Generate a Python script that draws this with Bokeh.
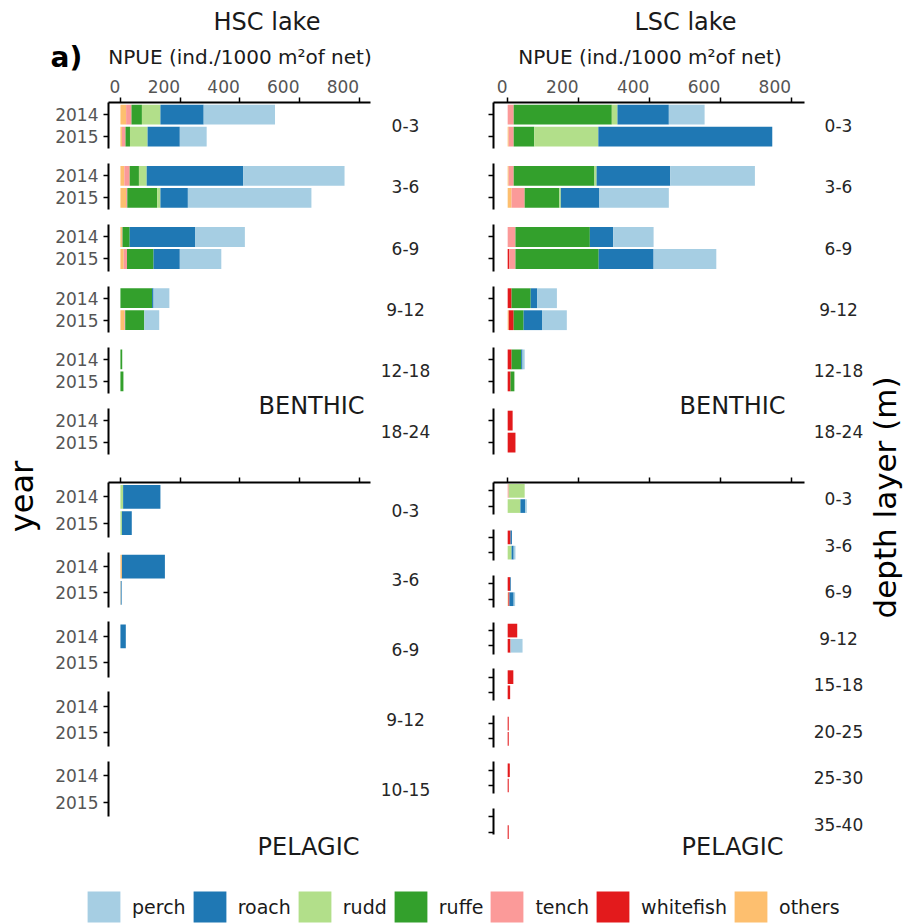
from math import pi
from bokeh.plotting import figure
from bokeh.models import (ColumnDataSource, Range1d, LinearAxis, FixedTicker,
                          Label, Legend, LegendItem)
from bokeh.embed import file_html
from bokeh.resources import INLINE

FONT = "DejaVu Sans"

# ---------------- data ----------------
SPECIES = ["perch", "roach", "rudd", "ruffe", "tench", "whitefish", "others"]
SPECIES_COLORS = ["#a6cee3", "#1f78b4", "#b2df8a", "#33a02c", "#fb9a99", "#e31a1c", "#fdbf6f"]
STACK_ORDER = ["others", "whitefish", "tench", "ruffe", "rudd", "roach", "perch"]
YEARS = ["2014", "2015"]
NPUE_TICKS = [0, 200, 400, 600, 800]
NPUE_LABEL = "NPUE (ind./1000 m²of net)"

# rows: depth0-2014, depth0-2015, depth1-2014, depth1-2015, ...
HSC_BEN_DEPTHS = ["0-3", "3-6", "6-9", "9-12", "12-18", "18-24"]
HSC_BEN_PERCH = [239, 90, 340, 414, 167, 139, 53, 50, 0, 0, 0, 0]
HSC_BEN_ROACH = [145, 108, 323, 92, 219, 88, 5, 0, 0, 0, 0, 0]
HSC_BEN_RUDD = [62, 59, 26, 11, 0, 0, 0, 0, 0, 0, 0, 0]
HSC_BEN_RUFFE = [35, 15, 31, 100, 24, 89, 106, 64, 6, 10, 0, 0]
HSC_BEN_TENCH = [18, 12, 18, 4, 2, 11, 0, 3, 0, 0, 0, 0]
HSC_BEN_WHITEFISH = [0, 0, 0, 0, 0, 0, 0, 0, 0, 0, 0, 0]
HSC_BEN_OTHERS = [19, 5, 13, 19, 5, 11, 0, 13, 0, 0, 0, 0]

LSC_BEN_DEPTHS = ["0-3", "3-6", "6-9", "9-12", "12-18", "18-24"]
LSC_BEN_PERCH = [101, 0, 239, 196, 114, 177, 56, 70, 6, 0, 0, 0]
LSC_BEN_ROACH = [145, 491, 208, 109, 66, 155, 18, 52, 4, 0, 0, 0]
LSC_BEN_RUDD = [16, 181, 6, 4, 0, 0, 0, 0, 0, 0, 0, 0]
LSC_BEN_RUFFE = [277, 58, 228, 98, 210, 235, 54, 28, 27, 11, 0, 0]
LSC_BEN_TENCH = [17, 14, 14, 37, 22, 18, 0, 0, 0, 0, 0, 0]
LSC_BEN_WHITEFISH = [0, 0, 0, 0, 0, 4, 11, 14, 11, 8, 14, 22]
LSC_BEN_OTHERS = [0, 3, 3, 11, 0, 0, 0, 3, 0, 0, 0, 0]

HSC_PEL_DEPTHS = ["0-3", "3-6", "6-9", "9-12", "10-15"]
HSC_PEL_PERCH = [0, 0, 0, 0, 0, 0, 0, 0, 0, 0]
HSC_PEL_ROACH = [125, 33, 144, 3, 18, 0, 0, 0, 0, 0]
HSC_PEL_RUDD = [9, 5, 0, 0, 0, 0, 0, 0, 0, 0]
HSC_PEL_RUFFE = [0, 0, 0, 0, 0, 0, 0, 0, 0, 0]
HSC_PEL_TENCH = [0, 0, 0, 0, 0, 0, 0, 0, 0, 0]
HSC_PEL_WHITEFISH = [0, 0, 0, 0, 0, 0, 0, 0, 0, 0]
HSC_PEL_OTHERS = [0, 0, 5, 1, 0, 0, 0, 0, 0, 0]

LSC_PEL_DEPTHS = ["0-3", "3-6", "6-9", "9-12", "15-18", "20-25", "25-30", "35-40"]
LSC_PEL_PERCH = [0, 5, 0, 5, 0, 4, 0, 34, 0, 0, 0, 0, 0, 0, 0, 0]
LSC_PEL_ROACH = [0, 13, 4, 6, 2, 12, 0, 0, 0, 0, 0, 0, 0, 0, 0, 0]
LSC_PEL_RUDD = [45, 36, 0, 11, 0, 0, 0, 0, 0, 0, 0, 0, 0, 0, 0, 0]
LSC_PEL_RUFFE = [0, 0, 0, 0, 0, 0, 0, 0, 0, 0, 0, 0, 0, 0, 0, 0]
LSC_PEL_TENCH = [3, 0, 0, 0, 0, 0, 0, 0, 0, 0, 0, 0, 0, 0, 0, 0]
LSC_PEL_WHITEFISH = [0, 0, 8, 0, 7, 3, 27, 8, 16, 7, 3, 3, 6, 3, 0, 3]
LSC_PEL_OTHERS = [0, 0, 0, 0, 0, 2, 0, 0, 0, 0, 0, 0, 0, 0, 0, 0]

# ---------------- layout (page pixels) ----------------
X_MIN, X_MAX = -40, 838
PX0, PY0 = 0, 0
W, H = 908, 923
FRAME_H = 352
HSC_LEFT, HSC_W = 108, 262
LSC_LEFT, LSC_W = 493, 311
BEN_TOP, PEL_TOP = 102, 482

p = figure(width=W, height=H,
           x_range=Range1d(PX0, PX0 + W), y_range=Range1d(-(PY0 + H), -PY0),
           x_axis_location=None, y_axis_location=None, min_border=0,
           outline_line_color=None, toolbar_location=None, output_backend="svg",
           background_fill_color="white", border_fill_color="white")
p.grid.visible = False


def x_rng(left, width):
    sx = width / (X_MAX - X_MIN)
    return Range1d(X_MIN - (left - PX0) / sx, X_MAX + (PX0 + W - left - width) / sx)


def y_rng(top, unit):
    return Range1d(-0.55 + (PY0 + H - top) / unit, -0.55 - (top - PY0) / unit)


BEN_U, BEN_PITCH = 22.0, 61.2
HPEL_U, HPEL_PITCH = 26.2, 69.75
LPEL_U, LPEL_PITCH = 15.2, 46.57

p.extra_x_ranges = {"hsc": x_rng(HSC_LEFT, HSC_W), "lsc": x_rng(LSC_LEFT, LSC_W)}
p.extra_y_ranges = {"ben": y_rng(BEN_TOP, BEN_U), "hpel": y_rng(PEL_TOP, HPEL_U),
                    "lpel": y_rng(PEL_TOP, LPEL_U)}

col = dict(zip(SPECIES, SPECIES_COLORS))


def vals(perch, roach, rudd, ruffe, tench, whitefish, others):
    return {"perch": perch, "roach": roach, "rudd": rudd, "ruffe": ruffe,
            "tench": tench, "whitefish": whitefish, "others": others}


def build_panel(xname, yname, depths, values, unit, pitch, frame_w,
                year_labels, tick_labels, depth_x, region, region_xy):
    P = pitch / unit
    sx = frame_w / (X_MAX - X_MIN)
    y_frame_bot = -0.55 + FRAME_H / unit

    ys, facets = [], []
    for k in range(len(depths)):
        base = round(k * P, 4)
        pair = [base, round(base + 1, 4)]
        ys += pair
        facets.append((pair, base - 0.55, min(base + 1.55, y_frame_bot)))

    data = {"y": ys}
    for s in SPECIES:
        data[s] = values[s]
    src = ColumnDataSource(data)
    rends = p.hbar_stack(STACK_ORDER, y="y", height=0.9,
                         color=[col[s] for s in STACK_ORDER], source=src,
                         line_color=None,
                         x_range_name=xname, y_range_name=yname)

    # top axis: line + ticks
    tax = LinearAxis(x_range_name=xname, y_range_name=yname, fixed_location=-0.55,
                     bounds=(X_MIN, X_MAX), ticker=FixedTicker(ticks=NPUE_TICKS),
                     axis_line_color="black", axis_line_width=2,
                     major_tick_out=5, major_tick_in=0, major_tick_line_width=1.5,
                     major_tick_line_color="black", minor_tick_line_color=None,
                     major_label_text_color=None)
    p.add_layout(tax, "above")

    if tick_labels:
        # tick labels end at their tick (right aligned, as in the original)
        shifted, ov = [], {}
        for v in NPUE_TICKS:
            half = len(str(v)) * 0.636 * 17 / 2.0
            pos = round(v - half / sx, 3)
            shifted.append(pos)
            ov[pos] = str(v)
        lax = LinearAxis(x_range_name=xname, y_range_name=yname, fixed_location=-0.55,
                         ticker=FixedTicker(ticks=shifted), major_label_overrides=ov,
                         axis_line_color=None, major_tick_line_color=None,
                         minor_tick_line_color=None, major_tick_out=0, major_tick_in=0,
                         major_label_text_font=FONT, major_label_text_font_size="17px",
                         major_label_text_color="#555555", major_label_standoff=10)
        p.add_layout(lax, "above")

    # one left axis per depth facet
    for pair, lo, hi in facets:
        ov = {pair[0]: YEARS[0], pair[1]: YEARS[1]}
        lax = LinearAxis(x_range_name=xname, y_range_name=yname, fixed_location=X_MIN,
                         bounds=(lo, hi), ticker=FixedTicker(ticks=pair),
                         major_label_overrides=ov,
                         axis_line_color="black", axis_line_width=2,
                         major_tick_out=5, major_tick_in=0, major_tick_line_width=1.5,
                         major_tick_line_color="black", minor_tick_line_color=None,
                         major_label_standoff=5, major_label_text_font=FONT,
                         major_label_text_font_size="17px",
                         major_label_text_color="#555555" if year_labels else None)
        p.add_layout(lax, "left")

    for k, d in enumerate(depths):
        p.add_layout(Label(x=depth_x, y=k * P + 0.5, y_range_name=yname, text=d,
                           text_align="center", text_baseline="middle",
                           text_font=FONT, text_font_size="17px", text_color="#262626"))

    p.add_layout(Label(x=region_xy[0], y=-region_xy[1], text=region,
                       text_align="left", text_baseline="middle",
                       text_font=FONT, text_font_size="24px", text_color="#1a1a1a"))
    return rends


rends = build_panel("hsc", "ben", HSC_BEN_DEPTHS,
                    vals(HSC_BEN_PERCH, HSC_BEN_ROACH, HSC_BEN_RUDD, HSC_BEN_RUFFE,
                         HSC_BEN_TENCH, HSC_BEN_WHITEFISH, HSC_BEN_OTHERS),
                    BEN_U, BEN_PITCH, HSC_W, True, True, 405, "BENTHIC", (258, 405))
build_panel("lsc", "ben", LSC_BEN_DEPTHS,
            vals(LSC_BEN_PERCH, LSC_BEN_ROACH, LSC_BEN_RUDD, LSC_BEN_RUFFE,
                 LSC_BEN_TENCH, LSC_BEN_WHITEFISH, LSC_BEN_OTHERS),
            BEN_U, BEN_PITCH, LSC_W, False, True, 838, "BENTHIC", (679, 405))
build_panel("hsc", "hpel", HSC_PEL_DEPTHS,
            vals(HSC_PEL_PERCH, HSC_PEL_ROACH, HSC_PEL_RUDD, HSC_PEL_RUFFE,
                 HSC_PEL_TENCH, HSC_PEL_WHITEFISH, HSC_PEL_OTHERS),
            HPEL_U, HPEL_PITCH, HSC_W, True, False, 405, "PELAGIC", (257, 846))
build_panel("lsc", "lpel", LSC_PEL_DEPTHS,
            vals(LSC_PEL_PERCH, LSC_PEL_ROACH, LSC_PEL_RUDD, LSC_PEL_RUFFE,
                 LSC_PEL_TENCH, LSC_PEL_WHITEFISH, LSC_PEL_OTHERS),
            LPEL_U, LPEL_PITCH, LSC_W, False, False, 838, "PELAGIC", (681, 846))

# titles, axis titles and panel tag (y = vertical centre of the text)
for txt, x, y, size in [("HSC lake", 266.5, 21, "24px"), ("LSC lake", 685, 21, "24px"),
                        (NPUE_LABEL, 239.5, 56, "20px"), (NPUE_LABEL, 649.5, 56, "20px")]:
    p.add_layout(Label(x=x, y=-y, text=txt, text_align="center", text_baseline="middle",
                       text_font=FONT, text_font_size=size, text_color="#1a1a1a"))
p.add_layout(Label(x=50, y=-57, text="a)", text_align="left", text_baseline="middle",
                   text_font=FONT, text_font_size="28px", text_font_style="bold",
                   text_color="black"))
p.add_layout(Label(x=21.5, y=-496, text="year", angle=pi / 2, text_align="center",
                   text_baseline="middle", text_font=FONT, text_font_size="32px",
                   text_color="black"))
p.add_layout(Label(x=884.5, y=-497, text="depth layer (m)", angle=pi / 2,
                   text_align="center", text_baseline="middle", text_font=FONT,
                   text_font_size="31px", text_color="black"))

# legend
rmap = dict(zip(STACK_ORDER, rends))
items = [LegendItem(label=s, renderers=[rmap[s]]) for s in SPECIES]
leg = Legend(items=items, orientation="horizontal", location=(83, -3),
             glyph_width=41, glyph_height=39, label_standoff=8, spacing=3,
             padding=0, margin=0, border_line_color=None, background_fill_alpha=0,
             label_text_font=FONT, label_text_font_size="19px", label_text_color="#1a1a1a")
p.add_layout(leg)

open("out.html", "w").write(file_html(p, INLINE))
